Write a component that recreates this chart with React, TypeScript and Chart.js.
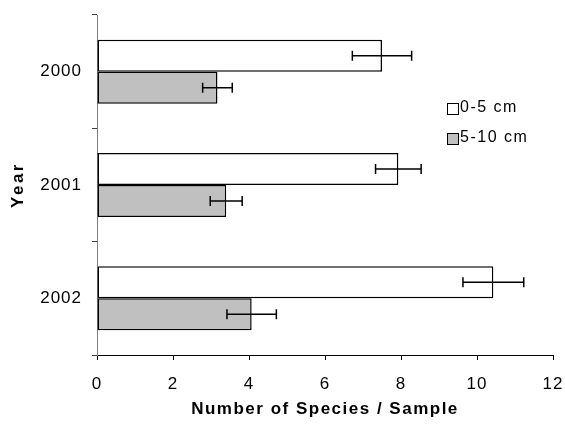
import React, { useEffect, useRef } from "react";
import { Chart, registerables } from "chart.js";

Chart.register(...registerables);

const years = ["2000", "2001", "2002"];
const seriesLabels = ["0-5 cm", "5-10 cm"];
const shallowMeans = [7.5, 7.93, 10.43];
const shallowErrors = [0.78, 0.6, 0.8];
const deepMeans = [3.17, 3.4, 4.07];
const deepErrors = [0.39, 0.42, 0.65];
const xMin = 0;
const xMax = 12;
const xStep = 2;
const xTitle = "Number of Species / Sample";
const yTitle = "Year";

const FONT = "'Liberation Sans', Arial, sans-serif";

const errorBarPlugin = {
  id: "errorBars",
  afterDatasetsDraw(chart: any) {
    const ctx = chart.ctx;
    const xs = chart.scales.x;
    ctx.save();
    ctx.strokeStyle = "#000";
    ctx.lineWidth = 1.5;
    chart.data.datasets.forEach((ds: any, i: number) => {
      const meta = chart.getDatasetMeta(i);
      meta.data.forEach((el: any, j: number) => {
        const v = ds.data[j];
        const e = ds.errors[j];
        const lo = xs.getPixelForValue(v - e);
        const hi = xs.getPixelForValue(v + e);
        const y = el.y;
        ctx.beginPath();
        ctx.moveTo(lo, y);
        ctx.lineTo(hi, y);
        ctx.moveTo(lo, y - 5);
        ctx.lineTo(lo, y + 5);
        ctx.moveTo(hi, y - 5);
        ctx.lineTo(hi, y + 5);
        ctx.stroke();
      });
    });
    ctx.restore();
  },
};

const spacingPlugin = {
  id: "spacing",
  beforeDraw(chart: any) {
    chart.ctx.letterSpacing = "1px";
  },
};

const decorPlugin = {
  id: "decor",
  afterDraw(chart: any) {
    const ctx = chart.ctx;
    const area = chart.chartArea;
    ctx.save();
    ctx.fillStyle = "#000";
    // axis titles
    ctx.font = `bold 17px ${FONT}`;
    ctx.letterSpacing = "1.5px";
    ctx.textAlign = "center";
    ctx.textBaseline = "middle";
    ctx.fillText(xTitle, (area.left + area.right) / 2, 409);
    ctx.save();
    ctx.translate(18, (area.top + area.bottom) / 2);
    ctx.rotate(-Math.PI / 2);
    ctx.letterSpacing = "2.5px";
    ctx.fillText(yTitle, 0, 0);
    ctx.restore();
    // legend
    ctx.font = `16px ${FONT}`;
    ctx.letterSpacing = "1.5px";
    ctx.textAlign = "left";
    ctx.textBaseline = "middle";
    const rows = [109, 139];
    chart.data.datasets.forEach((ds: any, i: number) => {
      const cy = rows[i];
      ctx.fillStyle = ds.backgroundColor;
      ctx.fillRect(447.5, cy - 5.5, 11, 11);
      ctx.strokeStyle = "#000";
      ctx.lineWidth = 1;
      ctx.strokeRect(447.5, cy - 5.5, 11, 11);
      ctx.fillStyle = "#000";
      ctx.fillText(ds.label, 460, cy - 1);
    });
    ctx.restore();
  },
};

function zeroPadding(scale: any) {
  scale.paddingLeft = 0;
  scale.paddingRight = 0;
  scale.paddingTop = 0;
  scale.paddingBottom = 0;
}

export default function App() {
  const ref = useRef<HTMLCanvasElement>(null);
  useEffect(() => {
    if (!ref.current) return;
    const chart = new Chart(ref.current, {
      type: "bar",
      data: {
        labels: years,
        datasets: [
          {
            label: seriesLabels[0],
            data: shallowMeans,
            errors: shallowErrors,
            backgroundColor: "#ffffff",
            borderColor: "#000000",
            borderWidth: 1.5,
            borderSkipped: false,
            categoryPercentage: 0.565,
            barPercentage: 1,
          } as any,
          {
            label: seriesLabels[1],
            data: deepMeans,
            errors: deepErrors,
            backgroundColor: "#c0c0c0",
            borderColor: "#000000",
            borderWidth: 1.5,
            borderSkipped: false,
            categoryPercentage: 0.565,
            barPercentage: 1,
          } as any,
        ],
      },
      options: {
        indexAxis: "y",
        responsive: false,
        animation: false,
        layout: { padding: { left: 0, top: 15, right: 12, bottom: 0 } },
        plugins: {
          legend: { display: false },
          tooltip: { enabled: false },
          title: { display: false },
        },
        scales: {
          x: {
            type: "linear",
            min: xMin,
            max: xMax,
            ticks: {
              stepSize: xStep,
              color: "#000",
              font: { family: FONT, size: 17 },
              padding: 14,
              maxRotation: 0,
            },
            grid: {
              display: true,
              drawOnChartArea: false,
              drawTicks: true,
              tickLength: 5,
              color: "#000",
            },
            border: { display: true, color: "#000", width: 1 },
            afterFit(scale: any) {
              scale.height = 71;
              zeroPadding(scale);
            },
          },
          y: {
            type: "category",
            ticks: {
              color: "#000",
              font: { family: FONT, size: 17 },
              padding: 10,
            },
            grid: {
              display: true,
              offset: true,
              drawOnChartArea: false,
              drawTicks: true,
              tickLength: 5,
              color: "#404040",
            },
            border: { display: true, color: "#808080", width: 1 },
            afterFit(scale: any) {
              scale.width = 97;
              zeroPadding(scale);
            },
          },
        },
      } as any,
      plugins: [spacingPlugin, errorBarPlugin, decorPlugin],
    });
    return () => chart.destroy();
  }, []);
  return (
    <div style={{ position: "fixed", left: 0, top: 0, width: 565, height: 426, background: "#fff" }}>
      <canvas ref={ref} width={565} height={426} />
    </div>
  );
}
